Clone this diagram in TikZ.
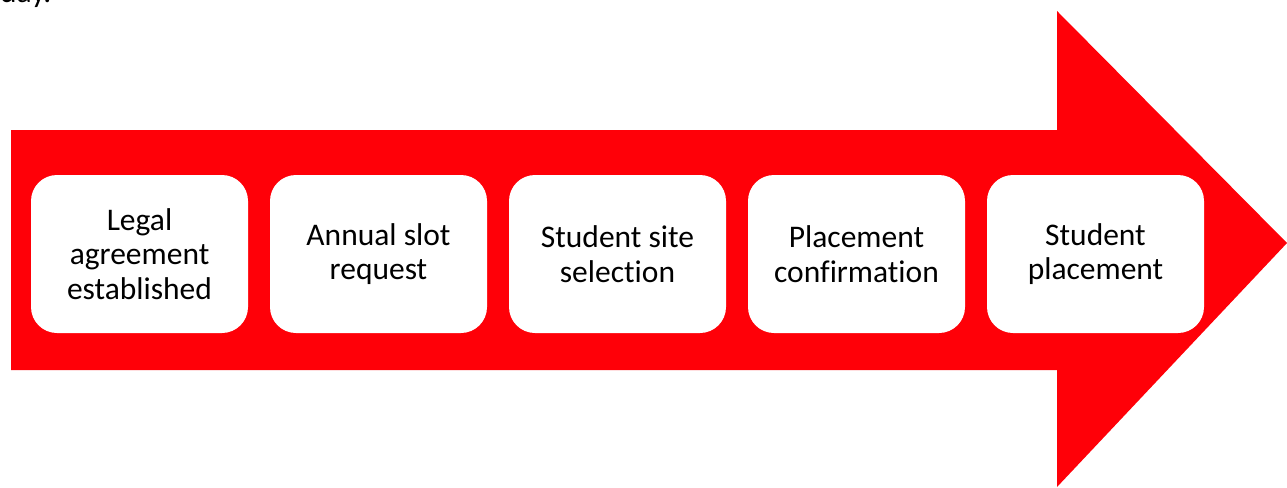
\documentclass[tikz,border=0pt]{standalone}
\usepackage{fontspec}
\setmainfont{Carlito}[RawFeature={-liga;-clig;-dlig}]
\definecolor{arrowred}{RGB}{255,0,8}
\begin{document}
\begin{tikzpicture}[x=1pt,y=-1pt,
  txt/.style={font=\fontsize{31.5pt}{34.5pt}\selectfont, text=black},
  stepbox/.style={txt, fill=white, draw=none, rounded corners=26pt, minimum width=217pt, minimum height=158pt, inner sep=0pt, align=center}]
\useasboundingbox (0,0) rectangle (1287,487);
\clip (0,0) rectangle (1287,487);
% big arrow
\fill[arrowred] (11,130) -- (1057,130) -- (1057,11) -- (1287,243) -- (1057,487) -- (1057,370) -- (11,370) -- cycle;
% cut-off text
\node[txt, anchor=base west, inner sep=0pt] (cut) at (0,3) {day.};
% steps
\node[stepbox] (s1) at (139.5,254) {Legal\\agreement\\established};
\node[stepbox] (s2) at (378.5,254) {Annual slot\\request};
\node[stepbox] (s3) at (617.5,254) {Student site\\selection};
\node[stepbox] (s4) at (856.5,254) {Placement\\confirmation};
\node[stepbox] (s5) at (1095.5,254) {Student\\placement};
\end{tikzpicture}
\end{document}
